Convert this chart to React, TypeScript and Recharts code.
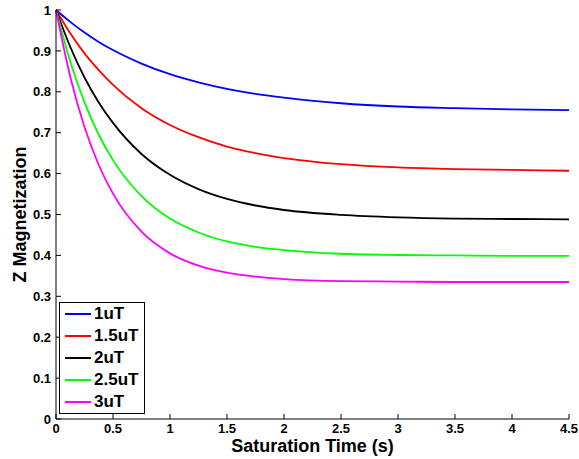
import { CartesianGrid, Legend, Line, LineChart, XAxis, YAxis } from 'recharts';

// saturation time (s)
const times = [0, 0.125, 0.25, 0.375, 0.5, 0.75, 1, 1.25, 1.5, 1.75, 2, 2.5, 3, 3.5, 4, 4.5];

// Z magnetization, one array per B1 amplitude
const mz1uT = [1, 0.971, 0.945, 0.922, 0.902, 0.869, 0.843, 0.823, 0.807, 0.795, 0.786, 0.772, 0.764, 0.76, 0.757, 0.755];
const mz15uT = [1, 0.943, 0.894, 0.853, 0.817, 0.76, 0.719, 0.689, 0.666, 0.65, 0.638, 0.623, 0.615, 0.611, 0.609, 0.607];
const mz2uT = [1, 0.91, 0.835, 0.774, 0.724, 0.648, 0.597, 0.562, 0.538, 0.522, 0.511, 0.499, 0.493, 0.49, 0.489, 0.488];
const mz25uT = [1, 0.874, 0.774, 0.695, 0.633, 0.545, 0.49, 0.456, 0.434, 0.421, 0.413, 0.404, 0.401, 0.4, 0.399, 0.399];
const mz3uT = [1, 0.837, 0.714, 0.621, 0.551, 0.458, 0.405, 0.375, 0.358, 0.348, 0.342, 0.337, 0.336, 0.335, 0.335, 0.335];

const seriesNames = ['1uT', '1.5uT', '2uT', '2.5uT', '3uT'];

const xTicks = [0, 0.5, 1, 1.5, 2, 2.5, 3, 3.5, 4, 4.5];
const yTicks = [0, 0.1, 0.2, 0.3, 0.4, 0.5, 0.6, 0.7, 0.8, 0.9, 1];

const data = times.map((t, i) => ({
  t,
  a: mz1uT[i],
  b: mz15uT[i],
  c: mz2uT[i],
  d: mz25uT[i],
  e: mz3uT[i],
}));

const FONT = '"Liberation Sans", Arial, Helvetica, sans-serif';
const tickStyle = { fill: '#000', fontSize: 13, fontWeight: 'bold', fontFamily: FONT };
const labelStyle = { fill: '#000', fontSize: 18, fontWeight: 'bold', fontFamily: FONT };

function BoxLegend({ payload }: any) {
  // keep the plotting order, not the alphabetical one
  const items = [...(payload || [])].sort(
    (p: any, q: any) => seriesNames.indexOf(p.value) - seriesNames.indexOf(q.value),
  );
  return (
    <div
      style={{
        border: '1px solid #000',
        background: '#fff',
        padding: '0 2px 0 5px',
        width: 86,
        boxSizing: 'border-box',
      }}
    >
      {items.map((p: any) => (
        <div key={p.value} style={{ display: 'flex', alignItems: 'center', height: 22 }}>
          <span
            style={{
              display: 'inline-block',
              width: 26,
              height: 0,
              borderTop: `2px solid ${p.color}`,
              marginRight: 3,
              flexShrink: 0,
            }}
          />
          <span style={{ font: `bold 17px ${FONT}`, color: '#000', whiteSpace: 'nowrap' }}>{p.value}</span>
        </div>
      ))}
    </div>
  );
}

export default function App() {
  return (
    <div style={{ position: 'fixed', left: 0, top: 0, width: 579, height: 459, background: '#fff' }}>
      <LineChart
        width={579}
        height={459}
        data={data}
        margin={{ top: 10, right: 10, bottom: 0, left: 0 }}
        style={{ fontFamily: FONT }}
      >
        <CartesianGrid stroke="none" />
        <XAxis
          xAxisId="bottom"
          dataKey="t"
          type="number"
          domain={[0, 4.5]}
          ticks={xTicks}
          height={40}
          tickSize={-5}
          tickMargin={10}
          tick={tickStyle}
          stroke="#000"
          interval={0}
          label={{ value: 'Saturation Time (s)', position: 'center', dy: 7, style: labelStyle }}
        />
        <XAxis
          xAxisId="top"
          orientation="top"
          dataKey="t"
          type="number"
          domain={[0, 4.5]}
          ticks={xTicks}
          height={0}
          tickSize={-5}
          tick={false}
          stroke="#000"
          interval={0}
        />
        <YAxis
          yAxisId="left"
          type="number"
          domain={[0, 1]}
          ticks={yTicks}
          width={56}
          tickSize={-5}
          tickMargin={10}
          tick={tickStyle}
          stroke="#000"
          interval={0}
          label={{
            value: 'Z Magnetization',
            angle: -90,
            position: 'center',
            dx: -8,
            style: { ...labelStyle, textAnchor: 'middle' },
          }}
        />
        <YAxis
          yAxisId="right"
          orientation="right"
          type="number"
          domain={[0, 1]}
          ticks={yTicks}
          width={0}
          tickSize={-5}
          tick={false}
          stroke="#000"
          interval={0}
        />
        <Legend
          layout="vertical"
          align="center"
          verticalAlign="middle"
          content={<BoxLegend />}
          wrapperStyle={{ left: 59, top: 302, width: 86 }}
        />
        <Line xAxisId="bottom" yAxisId="left" type="monotone" dataKey="a" name="1uT" stroke="#0000ff" strokeWidth={1.8} dot={false} isAnimationActive={false} />
        <Line xAxisId="bottom" yAxisId="left" type="monotone" dataKey="b" name="1.5uT" stroke="#ff0000" strokeWidth={1.8} dot={false} isAnimationActive={false} />
        <Line xAxisId="bottom" yAxisId="left" type="monotone" dataKey="c" name="2uT" stroke="#000000" strokeWidth={1.8} dot={false} isAnimationActive={false} />
        <Line xAxisId="bottom" yAxisId="left" type="monotone" dataKey="d" name="2.5uT" stroke="#00ff00" strokeWidth={1.8} dot={false} isAnimationActive={false} />
        <Line xAxisId="bottom" yAxisId="left" type="monotone" dataKey="e" name="3uT" stroke="#ff00ff" strokeWidth={1.8} dot={false} isAnimationActive={false} />
      </LineChart>
    </div>
  );
}
